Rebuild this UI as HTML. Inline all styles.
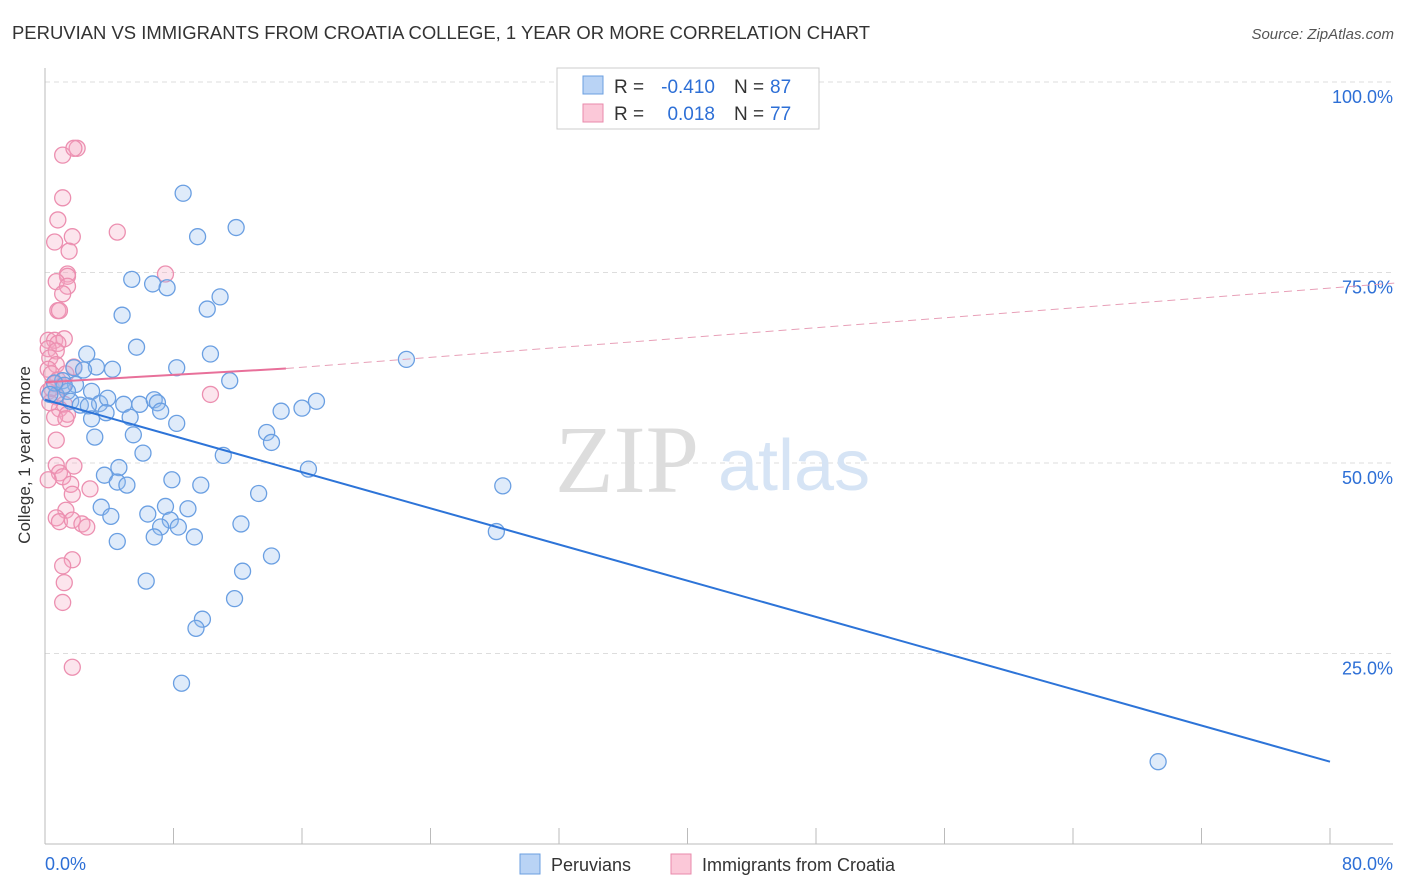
<!DOCTYPE html>
<html><head><meta charset="utf-8"><style>
body{margin:0;background:#fff;font-family:"Liberation Sans",sans-serif}
svg{display:block}
</style></head><body>
<svg width="1406" height="892" xmlns="http://www.w3.org/2000/svg">
<text x="12" y="39" font-size="18" fill="#333" textLength="858" lengthAdjust="spacingAndGlyphs">PERUVIAN VS IMMIGRANTS FROM CROATIA COLLEGE, 1 YEAR OR MORE CORRELATION CHART</text>
<text x="1394" y="39" font-size="15" fill="#555" font-style="italic" text-anchor="end">Source: ZipAtlas.com</text>
<g id="grid"></g>
<g id="axes"></g>
<text x="555" y="492" font-size="96" fill="#ddd" font-family="Liberation Serif,serif">ZIP</text>
<text x="718" y="490" font-size="72" fill="#d6e4f5">atlas</text>
<g id="pts"></g>
<g id="lines"></g>
<text x="30" y="455" font-size="17" fill="#333" transform="rotate(-90 30 455)" text-anchor="middle">College, 1 year or more</text>
<g>
<rect x="557" y="68" width="262" height="61" fill="#fff" stroke="#ccc"/>
<rect x="583" y="76" width="20" height="18" fill="#b9d3f5" stroke="#6b9fe0"/>
<rect x="583" y="104" width="20" height="18" fill="#fbc8d8" stroke="#e88aab"/>
<text x="614" y="93" font-size="19" fill="#333">R =</text>
<text x="715" y="93" font-size="19" fill="#2d6fd6" text-anchor="end">-0.410</text>
<text x="734" y="93" font-size="19" fill="#333">N =</text>
<text x="770" y="93" font-size="19" fill="#2d6fd6">87</text>
<text x="614" y="120" font-size="19" fill="#333">R =</text>
<text x="715" y="120" font-size="19" fill="#2d6fd6" text-anchor="end">0.018</text>
<text x="734" y="120" font-size="19" fill="#333">N =</text>
<text x="770" y="120" font-size="19" fill="#2d6fd6">77</text>
</g>
<g>
<rect x="520" y="854" width="20" height="20" fill="#b9d3f5" stroke="#6b9fe0"/>
<text x="551" y="871" font-size="18" fill="#333">Peruvians</text>
<rect x="671" y="854" width="20" height="20" fill="#fbc8d8" stroke="#e88aab"/>
<text x="702" y="871" font-size="18" fill="#333">Immigrants from Croatia</text>
</g>
</svg>
<script>
const yTicks=[100,75,50,25];
const xTickLabels=["0.0%","80.0%"];
const blueX=[8.6,9.5,11.9,5.4,6.7,7.6,10.9,10.1,4.8,5.7,10.3,2.6,8.2,4.2,3.2,22.5,11.5,1.8,2.4,1.1,1.9,2.9,1.4,0.7,1.6,2.2,3.4,4.9,3.9,5.9,6.8,7.0,7.2,3.8,2.9,5.3,8.2,14.7,16.0,16.9,5.5,3.1,13.8,14.1,6.1,11.1,16.4,4.6,3.7,4.5,5.1,7.9,9.7,13.3,28.5,3.5,4.1,7.5,6.4,8.9,7.8,7.2,8.3,6.8,9.3,12.2,4.5,28.1,14.1,12.3,6.3,11.8,9.8,9.4,8.5,69.3,1.2,0.6,0.3,2.7];
const blueY=[85.4,79.7,80.9,74.1,73.5,73.0,71.8,70.2,69.4,65.2,64.3,64.3,62.5,62.3,62.6,63.6,60.8,62.5,62.2,60.8,60.3,59.4,59.4,58.9,58.1,57.6,57.8,57.7,58.5,57.7,58.3,57.9,56.8,56.6,55.8,56.0,55.2,56.8,57.2,58.1,53.7,53.4,54.0,52.7,51.3,51.0,49.2,49.4,48.4,47.5,47.1,47.8,47.1,46.0,47.0,44.2,43.0,44.3,43.3,44.0,42.5,41.6,41.6,40.3,40.3,42.0,39.7,41.0,37.8,35.8,34.5,32.2,29.5,28.3,21.1,10.8,60.2,60.5,59.0,57.5];
const pinkX=[1.1,2.0,1.8,1.1,0.8,4.5,1.7,0.6,1.5,1.4,1.4,0.7,1.4,1.1,7.5,0.8,0.9,0.2,0.6,1.2,0.8,0.2,0.7,0.3,0.7,1.8,0.2,0.4,0.8,1.3,0.6,1.1,0.2,0.7,1.2,0.9,1.4,0.6,1.3,10.3,0.7,0.7,1.8,0.9,1.1,0.2,1.6,2.8,1.7,1.3,0.7,0.9,1.7,2.3,2.6,1.7,1.1,1.2,1.1,1.7,0.3,0.4];
const pinkY=[90.4,91.3,91.3,84.8,81.9,80.3,79.7,79.0,77.8,74.8,74.5,73.8,73.2,72.2,74.8,70.0,70.0,66.1,66.1,66.3,65.7,65.0,64.7,63.8,62.9,62.6,62.3,61.7,60.9,61.7,60.4,60.0,59.4,58.7,57.7,57.1,56.4,56.0,55.8,59.0,53.0,49.7,49.6,48.7,48.2,47.8,47.2,46.6,45.9,43.8,42.8,42.3,42.5,42.0,41.6,37.3,36.5,34.3,31.7,23.2,57.9,59.8];
const blueLine=[58.3,10.8];
const pinkLine=[60.6,62.4,73.6];
const NS="http://www.w3.org/2000/svg";
const X0=45,X1=1330,Y0=844,Y100=82;
const sx=v=>X0+v/80*(X1-X0);
const sy=v=>Y0-v/100*(Y0-Y100);
function mk(t,a,p){const e=document.createElementNS(NS,t);for(const k in a)e.setAttribute(k,a[k]);p.appendChild(e);return e;}
const grid=document.getElementById('grid'),axes=document.getElementById('axes');
yTicks.forEach(v=>{
 const l=mk('line',{x1:X0,x2:1393,y1:sy(v),y2:sy(v),stroke:'#ddd','stroke-dasharray':'5,4'},grid);
 
 
 const t=mk('text',{x:1393,y:sy(v)+21,'font-size':18,fill:'#2d6fd6','text-anchor':'end'},axes);
 t.textContent=v.toFixed(1)+'%';
 
 
});
mk('line',{x1:X0,x2:X0,y1:68,y2:Y0,stroke:'#bbb'},axes);
mk('line',{x1:X0,x2:1393,y1:Y0,y2:Y0,stroke:'#bbb'},axes);
for(let i=0;i<=10;i++){const x=sx(i*8);mk('line',{x1:x,x2:x,y1:Y0-16,y2:Y0,stroke:'#bbb'},axes);}
const t0=mk('text',{x:45,y:870,'font-size':18,fill:'#2d6fd6'},axes);t0.textContent=xTickLabels[0];


const t1=mk('text',{x:1393,y:870,'font-size':18,fill:'#2d6fd6','text-anchor':'end'},axes);t1.textContent=xTickLabels[1];


const pts=document.getElementById('pts');
pinkX.forEach((x,i)=>{const c=mk('circle',{cx:sx(x),cy:sy(pinkY[i]),r:8,fill:'rgba(246,170,196,0.3)',stroke:'#ec8fb0','stroke-width':1.3},pts);
 
 });
blueX.forEach((x,i)=>{const c=mk('circle',{cx:sx(x),cy:sy(blueY[i]),r:8,fill:'rgba(150,190,240,0.3)',stroke:'#6a9fe2','stroke-width':1.3},pts);
 
 });
const ln=document.getElementById('lines');
const bl=mk('line',{x1:sx(0),y1:sy(blueLine[0]),x2:sx(80),y2:sy(blueLine[1]),stroke:'#2d74d8','stroke-width':2},ln);


const pl=mk('line',{x1:sx(0),y1:sy(pinkLine[0]),x2:sx(15),y2:sy(pinkLine[1]),stroke:'#e8709a','stroke-width':2},ln);


const pd=mk('line',{x1:sx(15),y1:sy(pinkLine[1]),x2:sx(84),y2:sy(pinkLine[2]),stroke:'#e8a0b8','stroke-width':1,'stroke-dasharray':'8,5'},ln);


</script>
</body></html>
